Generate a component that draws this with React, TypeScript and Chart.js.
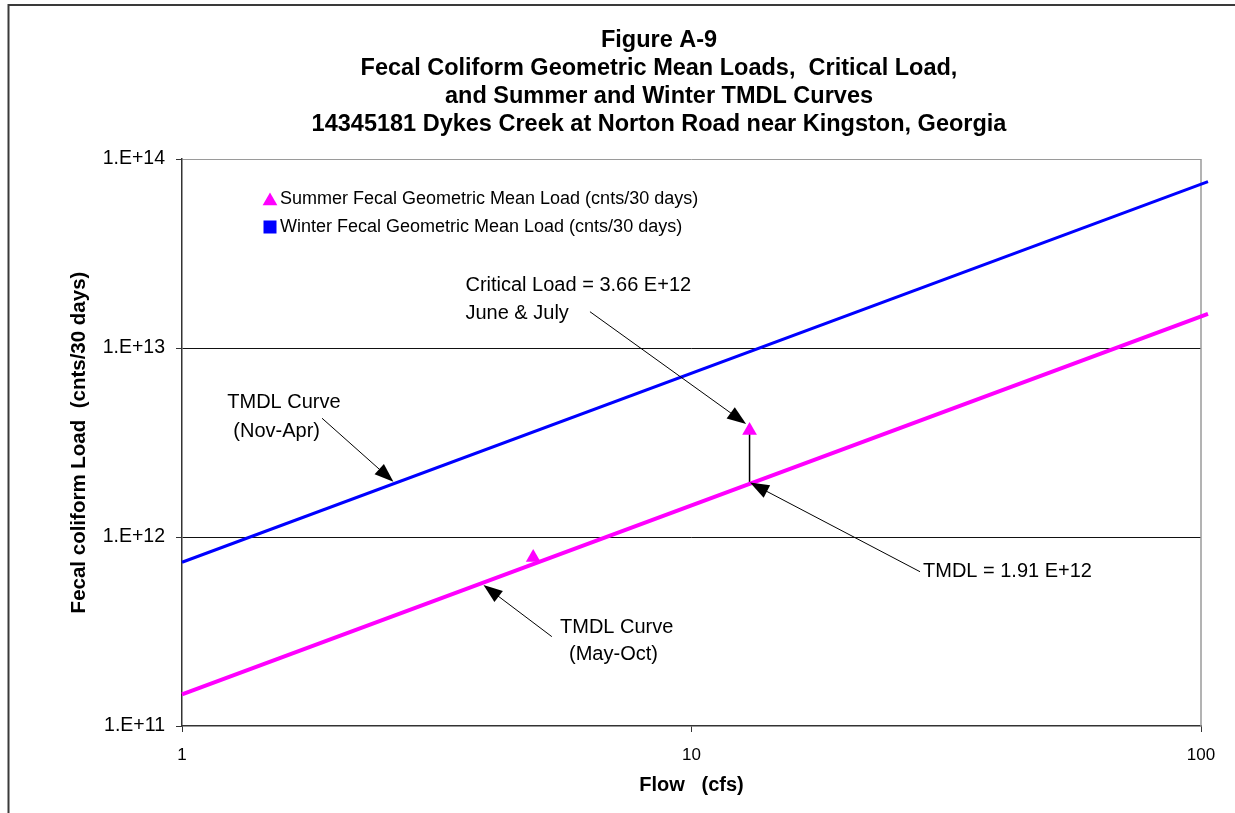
import React, { useEffect, useRef } from 'react';
import { Chart, registerables } from 'chart.js';

Chart.register(...registerables);

const FONT = '"Liberation Sans", Arial, Helvetica, sans-serif';

// ---- text ----
const titleLines = [
  'Figure A-9',
  'Fecal Coliform Geometric Mean Loads,  Critical Load,',
  'and Summer and Winter TMDL Curves',
  '14345181 Dykes Creek at Norton Road near Kingston, Georgia',
];
const xAxisTitle = 'Flow   (cfs)';
const yAxisTitle = 'Fecal coliform Load  (cnts/30 days)';

// ---- ticks ----
const xTicks = [1, 10, 100];
const yTicks = [1e11, 1e12, 1e13, 1e14];

// ---- data ----
const summerFlow = [4.89, 13.0];
const summerLoad = [7.8e11, 3.66e12];
const winterFlow: number[] = [];
const winterLoad: number[] = [];

const winterCurveFlow = [1, 103.2];
const winterCurveLoad = [7.35e11, 7.59e13];
const summerCurveFlow = [1, 13, 103.2];
const summerCurveLoad = [1.47e11, 1.91e12, 1.517e13];

const criticalFlow = [13, 13];
const criticalLoad = [3.66e12, 1.91e12];

// ---- annotations (data coordinates) ----
const noteTexts = [
  'Critical Load = 3.66 E+12',
  'June & July',
  'TMDL Curve',
  '(Nov-Apr)',
  'TMDL Curve',
  '(May-Oct)',
  'TMDL = 1.91 E+12',
];
const noteFlow = [3.6, 3.6, 1.227, 1.261, 5.52, 5.75, 28.47];
const noteLoad = [2.13e13, 1.53e13, 5.18e12, 3.6e12, 3.34e11, 2.38e11, 6.53e11];

const arrowFromFlow = [6.32, 1.883, 5.32, 28.09];
const arrowFromLoad = [1.556e13, 4.25e12, 2.97e11, 6.55e11];
const arrowToFlow = [12.8, 2.6, 3.906, 13.03];
const arrowToLoad = [3.96e12, 1.96e12, 5.57e11, 1.94e12];

const toXY = (xs: number[], ys: number[]) => xs.map((x, i) => ({ x, y: ys[i] }));

const MAGENTA = '#ff00ff';
const BLUE = '#0000ff';

function drawTriangle(ctx: CanvasRenderingContext2D, x: number, y: number, r: number) {
  ctx.beginPath();
  let rad = 0;
  ctx.moveTo(x + Math.sin(rad) * r, y - Math.cos(rad) * r);
  rad += (2 * Math.PI) / 3;
  ctx.lineTo(x + Math.sin(rad) * r, y - Math.cos(rad) * r);
  rad += (2 * Math.PI) / 3;
  ctx.lineTo(x + Math.sin(rad) * r, y - Math.cos(rad) * r);
  ctx.closePath();
  ctx.fill();
}

const decorPlugin = {
  id: 'decor',
  beforeDraw(chart: any) {
    const ctx = chart.ctx as CanvasRenderingContext2D;
    ctx.save();
    ctx.fillStyle = '#ffffff';
    ctx.fillRect(0, 0, chart.width, chart.height);
    ctx.strokeStyle = '#3a3a3a';
    ctx.lineWidth = 2;
    ctx.beginPath();
    ctx.moveTo(8.5, chart.height);
    ctx.lineTo(8.5, 5);
    ctx.lineTo(chart.width, 5);
    ctx.stroke();
    ctx.restore();
  },
  beforeDatasetsDraw(chart: any) {
    const ctx = chart.ctx as CanvasRenderingContext2D;
    const a = chart.chartArea;
    ctx.save();
    ctx.strokeStyle = '#9a9a9a';
    ctx.lineWidth = 1.5;
    ctx.beginPath();
    ctx.moveTo(a.right, a.top);
    ctx.lineTo(a.right, a.bottom);
    ctx.stroke();
    ctx.restore();
  },
  afterDatasetsDraw(chart: any) {
    const ctx = chart.ctx as CanvasRenderingContext2D;
    const xs = chart.scales.x;
    const ys = chart.scales.y;
    const a = chart.chartArea;
    ctx.save();

    // arrows
    ctx.strokeStyle = '#000';
    ctx.fillStyle = '#000';
    ctx.lineWidth = 1;
    for (let i = 0; i < arrowFromFlow.length; i++) {
      const x1 = xs.getPixelForValue(arrowFromFlow[i]);
      const y1 = ys.getPixelForValue(arrowFromLoad[i]);
      const x2 = xs.getPixelForValue(arrowToFlow[i]);
      const y2 = ys.getPixelForValue(arrowToLoad[i]);
      const ang = Math.atan2(y2 - y1, x2 - x1);
      const len = 19;
      const hw = 7;
      ctx.beginPath();
      ctx.moveTo(x1, y1);
      ctx.lineTo(x2 - Math.cos(ang) * len * 0.8, y2 - Math.sin(ang) * len * 0.8);
      ctx.stroke();
      const bx = x2 - Math.cos(ang) * len;
      const by = y2 - Math.sin(ang) * len;
      ctx.beginPath();
      ctx.moveTo(x2, y2);
      ctx.lineTo(bx + Math.sin(ang) * hw, by - Math.cos(ang) * hw);
      ctx.lineTo(bx - Math.sin(ang) * hw, by + Math.cos(ang) * hw);
      ctx.closePath();
      ctx.fill();
    }

    // annotation texts
    ctx.font = `20px ${FONT}`;
    ctx.textAlign = 'left';
    ctx.textBaseline = 'middle';
    ctx.fillStyle = '#000';
    for (let i = 0; i < noteTexts.length; i++) {
      ctx.fillText(noteTexts[i], xs.getPixelForValue(noteFlow[i]), ys.getPixelForValue(noteLoad[i]));
    }

    // legend
    const ds = chart.data.datasets;
    const lx = a.left + 88;
    const ly = a.top + 40;
    ctx.font = `18px ${FONT}`;
    [0, 1].forEach((di, row) => {
      const d = ds[di];
      const cy = ly + row * 28;
      ctx.fillStyle = d.backgroundColor;
      if (d.pointStyle === 'triangle') {
        drawTriangle(ctx, lx, cy + 2, 8.5);
      } else {
        ctx.fillRect(lx - 6.5, cy - 6.5, 13, 13);
      }
      ctx.fillStyle = '#000';
      ctx.fillText(d.label, lx + 10, cy);
    });

    // title
    ctx.font = `bold 23.5px ${FONT}`;
    ctx.textAlign = 'center';
    titleLines.forEach((t, i) => ctx.fillText(t, 659, 41 + i * 28));
    ctx.restore();
  },
};

export default function App() {
  const ref = useRef<HTMLCanvasElement>(null);
  useEffect(() => {
    const chart = new Chart(ref.current as HTMLCanvasElement, {
      type: 'scatter',
      data: {
        datasets: [
          {
            label: 'Summer Fecal Geometric Mean Load (cnts/30 days)',
            data: toXY(summerFlow, summerLoad),
            pointStyle: 'triangle',
            pointRadius: 8.5,
            backgroundColor: MAGENTA,
            borderColor: MAGENTA,
            borderWidth: 0,
            showLine: false,
          },
          {
            label: 'Winter Fecal Geometric Mean Load (cnts/30 days)',
            data: toXY(winterFlow, winterLoad),
            pointStyle: 'rect',
            pointRadius: 7,
            backgroundColor: BLUE,
            borderColor: BLUE,
            showLine: false,
          },
          {
            label: 'TMDL Curve (Nov-Apr)',
            data: toXY(winterCurveFlow, winterCurveLoad),
            showLine: true,
            borderColor: BLUE,
            backgroundColor: BLUE,
            borderWidth: 3,
            pointRadius: 0,
            clip: false,
          },
          {
            label: 'TMDL Curve (May-Oct)',
            data: toXY(summerCurveFlow, summerCurveLoad),
            showLine: true,
            borderColor: MAGENTA,
            backgroundColor: MAGENTA,
            borderWidth: 4,
            pointRadius: 0,
            clip: false,
          },
          {
            label: 'Critical Load to TMDL',
            data: toXY(criticalFlow, criticalLoad),
            showLine: true,
            borderColor: '#000',
            backgroundColor: '#000',
            borderWidth: 1.5,
            pointRadius: 0,
          },
        ],
      },
      options: {
        responsive: false,
        animation: false,
        devicePixelRatio: 1,
        layout: { padding: { left: 0, right: 34, top: 159, bottom: 0 } },
        plugins: {
          legend: { display: false },
          title: { display: false },
          tooltip: { enabled: false },
        },
        scales: {
          x: {
            type: 'logarithmic',
            min: 1,
            max: 100,
            afterBuildTicks: (s: any) => {
              s.ticks = xTicks.map((v) => ({ value: v }));
            },
            afterFit: (s: any) => {
              s.height = 87;
            },
            ticks: {
              autoSkip: false,
              maxRotation: 0,
              padding: 13,
              color: '#000',
              font: { family: FONT, size: 17 },
              callback: (v: any) => String(v),
            },
            grid: {
              drawOnChartArea: false,
              drawTicks: true,
              tickLength: 6,
              tickColor: '#333',
            },
            border: { display: true, color: '#333', width: 1.5 },
            title: {
              display: true,
              text: xAxisTitle,
              color: '#000',
              font: { family: FONT, size: 20, weight: 'bold' },
              padding: { top: 0, bottom: 16 },
            },
          },
          y: {
            type: 'logarithmic',
            min: 1e11,
            max: 1e14,
            afterBuildTicks: (s: any) => {
              s.ticks = yTicks.map((v) => ({ value: v }));
            },
            afterFit: (s: any) => {
              s.width = 182;
            },
            ticks: {
              autoSkip: false,
              padding: 11,
              color: '#000',
              font: { family: FONT, size: 19.5 },
              callback: (v: any) => '1.E+' + Math.round(Math.log10(Number(v))),
            },
            grid: {
              drawOnChartArea: true,
              drawTicks: true,
              tickLength: 6,
              tickColor: '#333',
              lineWidth: 1,
              color: (c: any) => {
                const v = c.tick ? c.tick.value : 0;
                if (v === 1e14) return '#9a9a9a';
                if (v === 1e11) return 'rgba(0,0,0,0)';
                return '#111';
              },
            },
            border: { display: true, color: '#333', width: 1.5 },
            title: {
              display: true,
              text: yAxisTitle,
              color: '#000',
              font: { family: FONT, size: 20.5, weight: 'bold' },
              padding: { top: 67, bottom: 0 },
            },
          },
        },
      },
      plugins: [decorPlugin],
    } as any);
    return () => chart.destroy();
  }, []);

  return (
    <div style={{ position: 'absolute', left: 0, top: 0, width: 1235, height: 813, background: '#fff' }}>
      <canvas ref={ref} width={1235} height={813} style={{ width: 1235, height: 813, display: 'block' }} />
    </div>
  );
}
